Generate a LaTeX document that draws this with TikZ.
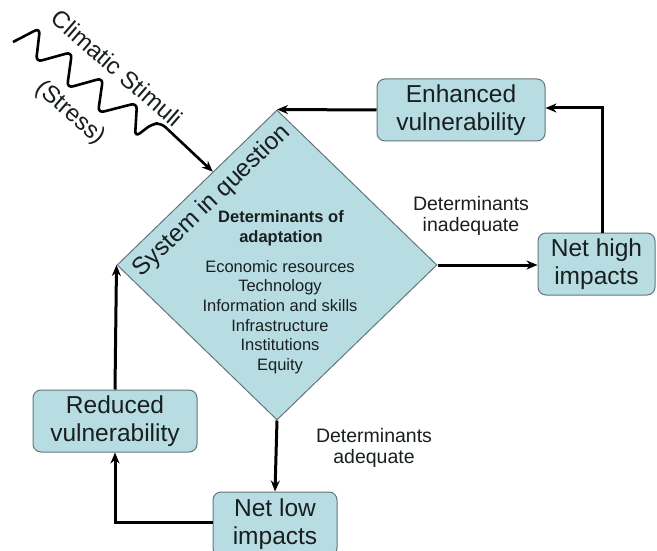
\documentclass[tikz,border=0pt]{standalone}
\usepackage{fontspec}
\setmainfont{Liberation Sans}
\usetikzlibrary{shapes.geometric,arrows.meta,calc}
\definecolor{boxfill}{RGB}{183,221,226}
\definecolor{boxline}{RGB}{100,118,122}
\definecolor{inktext}{RGB}{25,30,32}

\begin{document}
\begin{tikzpicture}[x=1pt,y=-1pt,
  box/.style={draw=boxline, fill=boxfill, rounded corners=8pt, line width=1pt,
    align=center, inner sep=0pt, text=inktext,
    font=\fontsize{24.5}{28.5}\selectfont},
  flow/.style={line width=3pt, -{Stealth[length=11pt,width=9pt]}},
  note/.style={align=center, text=inktext, font=\fontsize{19.5}{20.5}\selectfont},
  inner/.style={align=center, text=inktext, font=\fontsize{16.5}{19.6}\selectfont}]
\useasboundingbox (0,0) rectangle (657,551);

% central system
\node[diamond, draw=boxline, fill=boxfill, line width=1pt, inner sep=0pt,
      minimum width=320pt, minimum height=310pt] (dia) at (277,265) {};
\node[inner, rotate=44, font=\fontsize{24.5}{28}\selectfont] (sys) at (212,201) {System in question};
\node[inner, font=\bfseries\fontsize{16.5}{19.5}\selectfont] (dhead) at (281,228) {Determinants of\\adaptation};
\node[inner] (dlist) at (280,317) {Economic resources\\Technology\\Information and skills\\Infrastructure\\Institutions\\Equity};

% outcome boxes
\node[box, minimum width=168pt, minimum height=62pt] (enh) at (461,110) {Enhanced\\vulnerability};
\node[box, minimum width=117pt, minimum height=62pt] (nh) at (596.5,264) {Net high\\impacts};
\node[box, minimum width=124pt, minimum height=64pt] (nl) at (275,524) {Net low\\impacts};
\node[box, minimum width=164pt, minimum height=62pt] (red) at (115,421) {Reduced\\vulnerability};

% branch labels
\node[note] (lin) at (471,216) {Determinants\\inadequate};
\node[note] (lad) at (374,448) {Determinants\\adequate};

% climatic stimulus
\node[inner, rotate=-41, font=\fontsize{24}{28}\selectfont] (clim) at (117,68) {Climatic Stimuli};
\node[inner, rotate=-41, font=\fontsize{24}{28}\selectfont] (stress) at (70,113) {(Stress)};
\coordinate (hit) at ($(dia.west)!0.6!(dia.north)$);
\draw[line width=2.6pt, rounded corners=6pt, -{Stealth[length=11pt,width=9pt]}]
  (13,42) -- (40,28) -- (36,62) -- (72,52) -- (67,88) -- (103,78) -- (98,113)
  -- (137,103) -- (135,137) -- (152,124) -- (161,123) -- (hit);

% connectors
\draw[flow] (enh.west) -- (dia.north);
\draw[flow] (dia.east) -- (dia.east -| nh.west);
\draw[flow] (nh.north -| 602,0) -- (602,108) -- (enh.east |- 0,108);
\draw[flow] (dia.south) -- (nl.north);
\draw[flow] (nl.west |- 0,522) -- (115,522) -- (red.south);
\draw[flow] (red.north) -- (dia.west);
\end{tikzpicture}
\end{document}
